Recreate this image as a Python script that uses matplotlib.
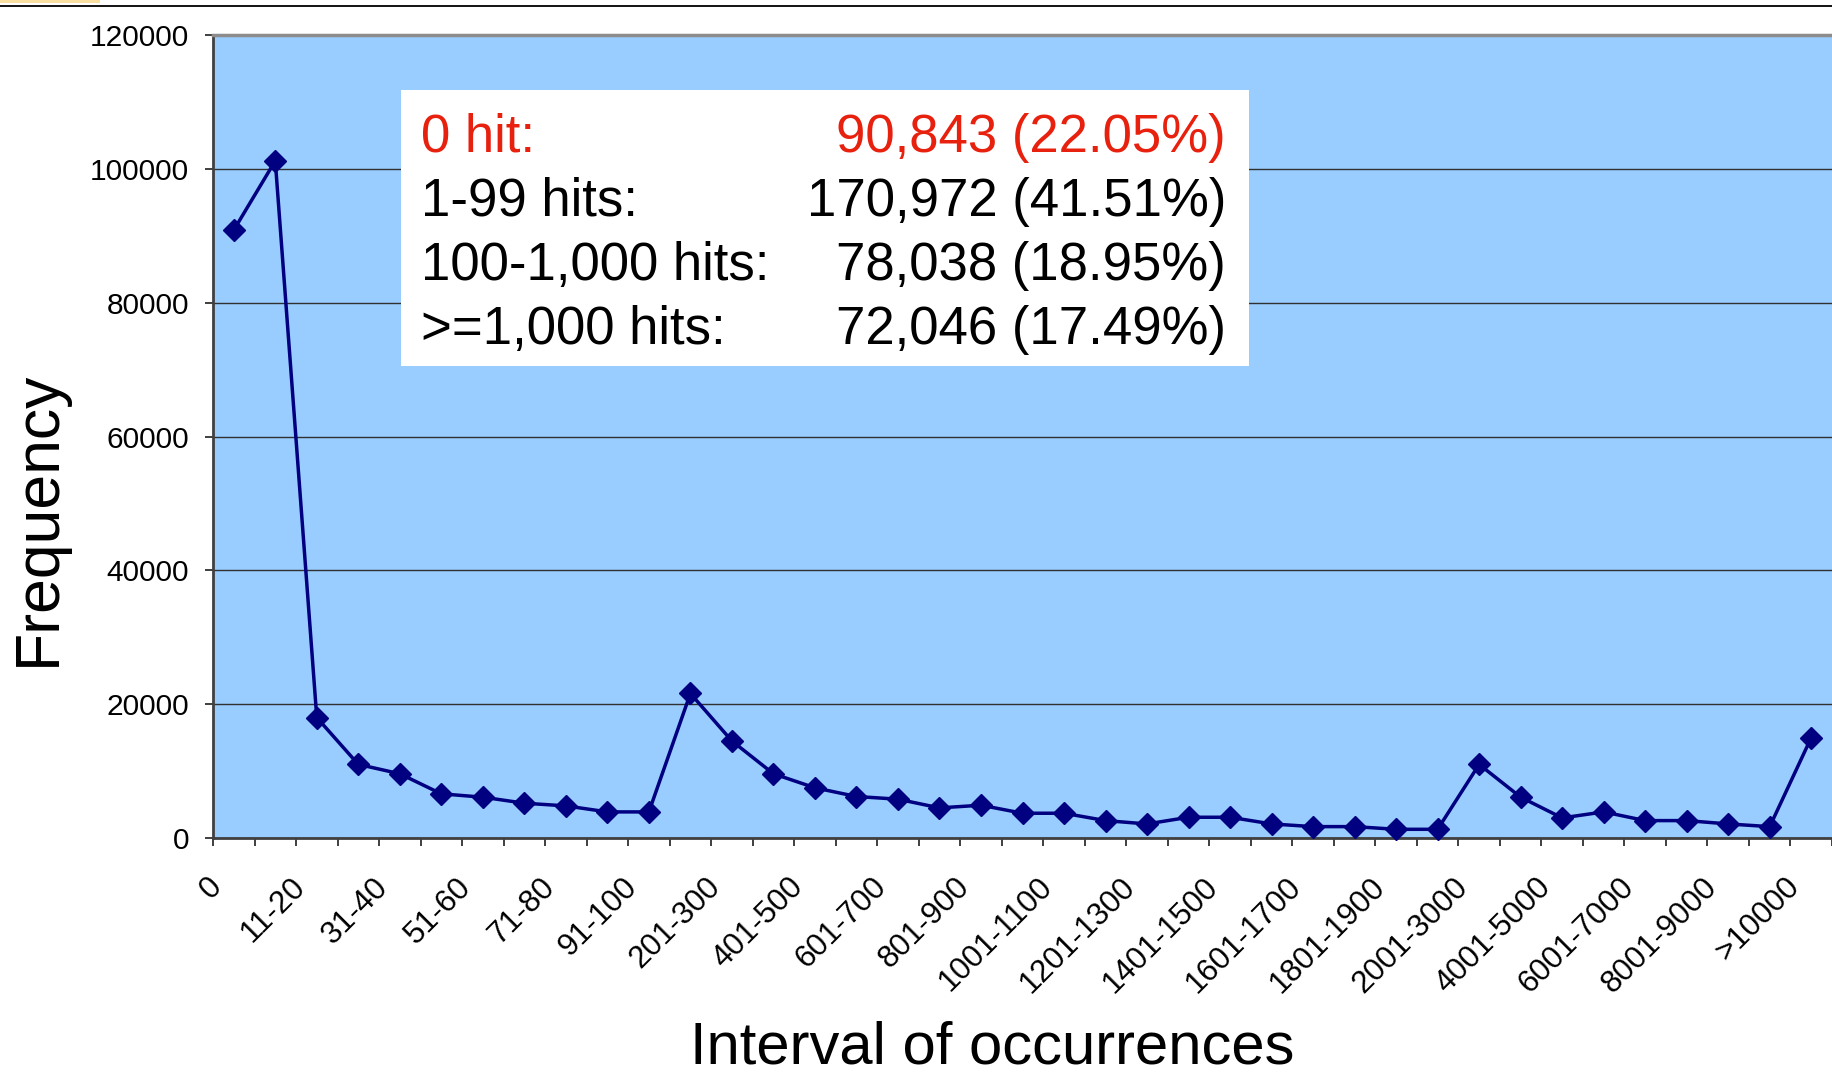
import matplotlib
matplotlib.use("Agg")
import numpy as np
from matplotlib import pyplot as plt
from matplotlib.patches import Rectangle
from matplotlib.lines import Line2D
from matplotlib.transforms import ScaledTranslation

plt.rcParams["font.family"] = ["Liberation Sans", "DejaVu Sans"]

intervals = [
    "0", "1-10", "11-20", "21-30", "31-40", "41-50", "51-60", "61-70", "71-80", "81-90", "91-100",
    "101-200", "201-300", "301-400", "401-500", "501-600", "601-700", "701-800", "801-900", "901-1000",
    "1001-1100", "1101-1200", "1201-1300", "1301-1400", "1401-1500", "1501-1600", "1601-1700",
    "1701-1800", "1801-1900", "1901-2000",
    "2001-3000", "3001-4000", "4001-5000", "5001-6000", "6001-7000", "7001-8000", "8001-9000",
    "9001-10000", ">10000",
]
frequency = [
    90843, 101200, 18000, 11000, 9600, 6600, 6100, 5200, 4800, 3900, 3900,
    21600, 14500, 9600, 7500, 6200, 5800, 4500, 4900, 3700,
    3700, 2600, 2100, 3100, 3100, 2100, 1700, 1700, 1300, 1300,
    11000, 6100, 3000, 3900, 2600, 2600, 2100, 1700, 15000,
]
y_ticks = [0, 20000, 40000, 60000, 80000, 100000, 120000]

summary_labels = ["0 hit:", "1-99 hits:", "100-1,000 hits:", ">=1,000 hits:"]
summary_values = ["90,843 (22.05%)", "170,972 (41.51%)", "78,038 (18.95%)", "72,046 (17.49%)"]
summary_colors = ["#e8200e", "black", "black", "black"]

W, H = 1832, 1075
fig = plt.figure(figsize=(W / 100, H / 100), dpi=100)


def fx(px):
    return px / W


def fy(py):
    # pixel from top -> figure fraction
    return 1 - py / H


ax = fig.add_axes([fx(213), fy(838), fx(W - 213), (838 - 35) / H])
ax.set_facecolor("#99ccff")

x = np.arange(len(intervals))
ax.plot(x, frequency, color="#000080", lw=2.5, marker="D", ms=11, mew=1, clip_on=False, zorder=3)

ax.set_xlim(-0.5, len(intervals) - 0.5)
ax.set_ylim(0, 120000)
ax.set_yticks(y_ticks)
ax.set_yticklabels([str(v) for v in y_ticks])
ax.yaxis.grid(True, color="#303030", lw=1)
ax.set_axisbelow(True)

# ticks sit between categories, labels on every other category
ax.set_xticks(np.arange(-0.5, len(intervals), 1))
ax.set_xticklabels([])
ax.set_xticks(x[::2], minor=True)
ax.set_xticklabels(intervals[::2], minor=True, rotation=45, rotation_mode="anchor",
                   ha="right", va="center", fontsize=22.5)
ax.tick_params(axis="x", which="major", direction="out", length=5.8, width=1.3, color="#303030")
ax.tick_params(axis="x", which="minor", length=0, pad=32)
ax.tick_params(axis="y", direction="out", length=5.8, width=1.3, color="#303030", pad=11.5, labelsize=21.5)
shift = ScaledTranslation(-16 / 100, 0, fig.dpi_scale_trans)
for lab in ax.get_xticklabels(minor=True):
    lab.set_transform(lab.get_transform() + shift)

for side in ["left", "bottom"]:
    ax.spines[side].set_color("#404040")
    ax.spines[side].set_linewidth(2)
ax.spines["top"].set_color("#8c8c8c")
ax.spines["top"].set_linewidth(2.5)
ax.spines["right"].set_visible(False)

fig.text(fx(38), fy(518), "Frequency", rotation=90, ha="center", va="center", fontsize=45)
fig.text(fx(992), fy(1064), "Interval of occurrences", ha="center", va="baseline", fontsize=43)

# summary box
fig.add_artist(Rectangle((fx(401), fy(366)), fx(1249 - 401), (366 - 90) / H,
                         transform=fig.transFigure, fc="white", ec="none", zorder=5))
for i, (lab, val, col) in enumerate(zip(summary_labels, summary_values, summary_colors)):
    base = 152 + i * 64
    fig.text(fx(421), fy(base), lab, color=col, fontsize=38, va="baseline", ha="left", zorder=6)
    fig.text(fx(1226), fy(base), val, color=col, fontsize=38, va="baseline", ha="right", zorder=6)

# slide header remnants
fig.add_artist(Line2D([0, 1], [fy(6), fy(6)], transform=fig.transFigure, color="black", lw=1.3))
fig.add_artist(Rectangle((0, fy(3)), fx(100), 3 / H, transform=fig.transFigure,
                         fc="#f9dfa0", ec="none"))

fig.savefig("out.png", dpi=100)
